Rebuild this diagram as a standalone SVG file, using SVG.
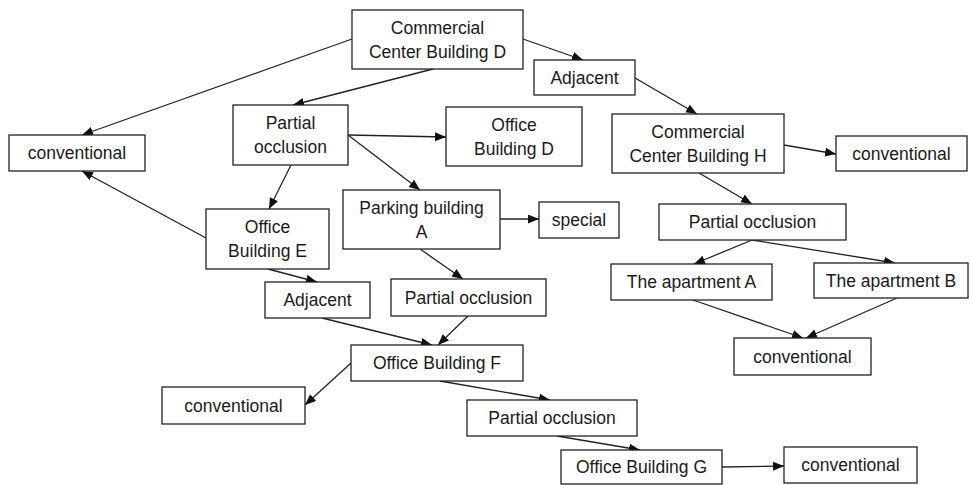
<svg xmlns="http://www.w3.org/2000/svg" width="971" height="485" viewBox="0 0 971 485">
  <style>
    .box { fill: #ffffff; stroke: #222222; stroke-width: 1.3; }
    .lbl { font-family: "Liberation Sans", Arial, sans-serif; font-size: 17.5px; fill: #1a1a1a; text-anchor: middle; }
    .edge { stroke: #222222; stroke-width: 1.3; fill: none; marker-end: url(#arrow); }
  </style>
  <defs>
    <marker id="arrow" markerUnits="userSpaceOnUse" markerWidth="12" markerHeight="10" refX="11" refY="4.5" orient="auto">
      <path d="M0,0 L11,4.5 L0,9 Z" fill="#111111"/>
    </marker>
  </defs>
  <rect width="971" height="485" fill="#ffffff"/>

  <g id="connectors">
    <line class="edge" x1="352" y1="39" x2="82" y2="135"/>
    <line class="edge" x1="433" y1="69" x2="293" y2="105"/>
    <line class="edge" x1="523" y1="39" x2="583" y2="60"/>
    <line class="edge" x1="635" y1="78" x2="697" y2="114"/>
    <line class="edge" x1="348" y1="135" x2="446" y2="137"/>
    <line class="edge" x1="348" y1="135" x2="420" y2="190"/>
    <line class="edge" x1="291" y1="165" x2="269" y2="209"/>
    <line class="edge" x1="206" y1="238" x2="82" y2="171"/>
    <line class="edge" x1="268" y1="269" x2="317" y2="282"/>
    <line class="edge" x1="420" y1="249" x2="463" y2="279"/>
    <line class="edge" x1="468" y1="316" x2="438" y2="345"/>
    <line class="edge" x1="322" y1="318" x2="432" y2="345"/>
    <line class="edge" x1="351" y1="363" x2="305" y2="405"/>
    <line class="edge" x1="440" y1="381" x2="550" y2="400"/>
    <line class="edge" x1="557" y1="436" x2="640" y2="450"/>
    <line class="edge" x1="722" y1="467" x2="784" y2="466"/>
    <line class="edge" x1="784" y1="145" x2="836" y2="154"/>
    <line class="edge" x1="699" y1="173" x2="752" y2="204"/>
    <line class="edge" x1="752" y1="240" x2="694" y2="264"/>
    <line class="edge" x1="752" y1="240" x2="895" y2="263"/>
    <line class="edge" x1="693" y1="300" x2="803" y2="338"/>
    <line class="edge" x1="897" y1="298" x2="806" y2="338"/>
    <line class="edge" x1="500" y1="219" x2="539" y2="219"/>
  </g>

  <g id="commercial-d">
    <rect class="box" x="352" y="10" width="171" height="59"/>
    <text class="lbl" x="437.5" y="34">Commercial</text>
    <text class="lbl" x="437.5" y="58">Center Building D</text>
  </g>
  <g id="adjacent-top">
    <rect class="box" x="534" y="60" width="101" height="35"/>
    <text class="lbl" x="584.5" y="83.5">Adjacent</text>
  </g>
  <g id="conventional-left">
    <rect class="box" x="9" y="135" width="136" height="36"/>
    <text class="lbl" x="77" y="159">conventional</text>
  </g>
  <g id="partial-occlusion-1">
    <rect class="box" x="233" y="105" width="115" height="60"/>
    <text class="lbl" x="290.5" y="129">Partial</text>
    <text class="lbl" x="290.5" y="153">occlusion</text>
  </g>
  <g id="office-d">
    <rect class="box" x="446" y="107" width="136" height="59"/>
    <text class="lbl" x="514" y="131">Office</text>
    <text class="lbl" x="514" y="155">Building D</text>
  </g>
  <g id="commercial-h">
    <rect class="box" x="612" y="114" width="172" height="59"/>
    <text class="lbl" x="698" y="138">Commercial</text>
    <text class="lbl" x="698" y="162">Center Building H</text>
  </g>
  <g id="conventional-h">
    <rect class="box" x="836" y="136" width="131" height="35"/>
    <text class="lbl" x="901.5" y="159.5">conventional</text>
  </g>
  <g id="office-e">
    <rect class="box" x="206" y="209" width="123" height="60"/>
    <text class="lbl" x="267.5" y="233">Office</text>
    <text class="lbl" x="267.5" y="257">Building E</text>
  </g>
  <g id="parking-a">
    <rect class="box" x="343" y="190" width="157" height="59"/>
    <text class="lbl" x="421.5" y="214">Parking building</text>
    <text class="lbl" x="421.5" y="238">A</text>
  </g>
  <g id="special">
    <rect class="box" x="539" y="202" width="80" height="36"/>
    <text class="lbl" x="579" y="226">special</text>
  </g>
  <g id="partial-occlusion-h">
    <rect class="box" x="659" y="204" width="187" height="36"/>
    <text class="lbl" x="752.5" y="228">Partial occlusion</text>
  </g>
  <g id="apartment-a">
    <rect class="box" x="611" y="264" width="161" height="36"/>
    <text class="lbl" x="691.5" y="288">The apartment A</text>
  </g>
  <g id="apartment-b">
    <rect class="box" x="814" y="263" width="154" height="35"/>
    <text class="lbl" x="891" y="286.5">The apartment B</text>
  </g>
  <g id="adjacent-e">
    <rect class="box" x="265" y="282" width="105" height="36"/>
    <text class="lbl" x="317.5" y="306">Adjacent</text>
  </g>
  <g id="partial-occlusion-a">
    <rect class="box" x="391" y="279" width="155" height="37"/>
    <text class="lbl" x="468.5" y="303.5">Partial occlusion</text>
  </g>
  <g id="conventional-apartments">
    <rect class="box" x="734" y="338" width="137" height="37"/>
    <text class="lbl" x="802.5" y="362.5">conventional</text>
  </g>
  <g id="office-f">
    <rect class="box" x="351" y="345" width="172" height="36"/>
    <text class="lbl" x="437" y="369">Office Building F</text>
  </g>
  <g id="conventional-f">
    <rect class="box" x="162" y="387" width="143" height="37"/>
    <text class="lbl" x="233.5" y="411.5">conventional</text>
  </g>
  <g id="partial-occlusion-f">
    <rect class="box" x="467" y="400" width="170" height="36"/>
    <text class="lbl" x="552" y="424">Partial occlusion</text>
  </g>
  <g id="office-g">
    <rect class="box" x="561" y="450" width="161" height="34"/>
    <text class="lbl" x="641.5" y="473">Office Building G</text>
  </g>
  <g id="conventional-g">
    <rect class="box" x="784" y="447" width="133" height="36"/>
    <text class="lbl" x="850.5" y="471">conventional</text>
  </g>
</svg>
